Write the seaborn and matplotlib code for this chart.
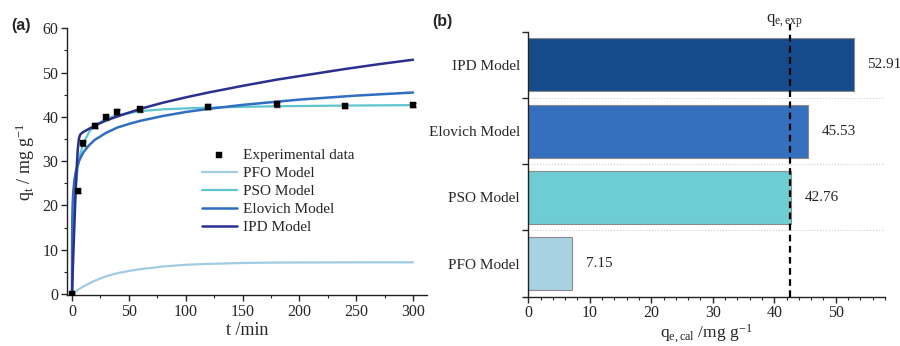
import matplotlib
matplotlib.use('Agg')
import matplotlib.pyplot as plt
import seaborn as sns
import pandas as pd
from matplotlib.ticker import MultipleLocator, FixedLocator, NullFormatter

# ---------------- data ----------------
t_exp = [0, 5, 10, 20, 30, 40, 60, 120, 180, 240, 300]
q_exp = [0, 23.2, 34.0, 38.0, 39.9, 41.1, 41.7, 42.3, 42.8, 42.5, 42.7]
err_exp = [0.3, 0.5, 0.6, 0.6, 0.5, 0.6, 0.5, 0.5, 0.6, 0.5, 0.5]

t_pfo = [0, 5, 10, 20, 30, 40, 50, 60, 80, 100, 120, 150, 180, 240, 300]
q_pfo = [0, 0.9, 1.7, 3.0, 4.0, 4.7, 5.2, 5.6, 6.2, 6.6, 6.8, 7.0, 7.1, 7.14, 7.15]

t_pso = [0, 1, 2, 3, 5, 7, 10, 15, 20, 30, 40, 60, 80, 120, 180, 240, 300]
q_pso = [0, 12.2, 19.0, 23.3, 28.5, 31.5, 34.0, 36.6, 38.0, 39.6, 40.4, 41.3, 41.7,
         42.1, 42.4, 42.55, 42.65]

t_elo = [0, 0.05, 0.2, 0.5, 1, 2, 3, 5, 7, 10, 15, 20, 30, 40, 50, 60, 80, 100, 120,
         150, 200, 250, 300]
q_elo = [0, 11.1, 16.4, 20.0, 22.8, 25.6, 27.2, 29.2, 30.5, 32.0, 33.6, 34.8, 36.4, 37.6,
         38.4, 39.1, 40.2, 41.1, 41.8, 42.7, 43.9, 44.8, 45.5]

t_ipd = [0, 1, 2, 3, 4, 5, 6, 7, 8, 10, 15, 20, 30, 40, 60, 80, 100, 120, 150, 180,
         210, 240, 270, 300]
q_ipd = [0, 8.0, 15.0, 22.0, 28.0, 32.5, 35.0, 35.9, 36.2, 36.6, 37.3, 38.0, 39.2, 40.1,
         41.8, 43.2, 44.4, 45.5, 47.0, 48.4, 49.6, 50.8, 51.9, 52.9]

models = ['IPD Model', 'Elovich Model', 'PSO Model', 'PFO Model']
qe_cal = [52.91, 45.53, 42.76, 7.15]
qe_exp = 42.6
bar_colors = ['#164b8b', '#3570be', '#6ecdd3', '#a8d1e2']

# ---------------- style ----------------
sns.set_style('ticks')
plt.rcParams['font.family'] = ['Liberation Serif', 'DejaVu Serif']
plt.rcParams['mathtext.fontset'] = 'custom'
plt.rcParams['mathtext.rm'] = 'Liberation Serif'
plt.rcParams['mathtext.it'] = 'Liberation Serif:italic'
plt.rcParams['axes.linewidth'] = 1.0
plt.rcParams['axes.edgecolor'] = '#222222'

fig = plt.figure(figsize=(9, 3.46), dpi=100)
ax1 = fig.add_axes([0.0741, 0.1465, 0.4007, 0.7717])
ax2 = fig.add_axes([0.587, 0.1425, 0.3963, 0.766])

# ---------------- panel (a) ----------------
line_specs = [
    (t_pfo, q_pfo, '#9fcbe3', 'PFO Model', 1.6),
    (t_pso, q_pso, '#5fc6cf', 'PSO Model', 1.6),
    (t_elo, q_elo, '#2f6ec0', 'Elovich Model', 1.8),
    (t_ipd, q_ipd, '#2b2f8f', 'IPD Model', 1.8),
]
for tt, qq, c, lab, lw in line_specs:
    sns.lineplot(x=tt, y=qq, ax=ax1, color=c, lw=lw, label=lab, zorder=2)

ax1.errorbar(t_exp, q_exp, yerr=err_exp, fmt='none', ecolor='#333333', elinewidth=0.8,
             capsize=2, zorder=3)
sns.scatterplot(x=t_exp, y=q_exp, ax=ax1, marker='s', color='black', s=22,
                edgecolor='black', linewidth=0.3, label='Experimental data', zorder=4)

ax1.set_xlim(-4.7, 312.6)
ax1.set_ylim(-0.3, 60)
ax1.xaxis.set_major_locator(MultipleLocator(50))
ax1.xaxis.set_minor_locator(MultipleLocator(25))
ax1.yaxis.set_major_locator(MultipleLocator(10))
ax1.yaxis.set_minor_locator(MultipleLocator(5))
ax1.tick_params(which='major', direction='out', length=4, width=1, labelsize=11.5, pad=2)
ax1.tick_params(which='minor', direction='out', length=2.5, width=0.8)
sns.despine(ax=ax1)
ax1.set_xlabel('t /min', fontsize=13, labelpad=2)
ax1.set_ylabel(r'$\mathregular{q_t}$ / mg g$^{\mathregular{-1}}$', fontsize=13, labelpad=4)

handles, labels = ax1.get_legend_handles_labels()
order = ['Experimental data', 'PFO Model', 'PSO Model', 'Elovich Model', 'IPD Model']
hmap = dict(zip(labels, handles))
ax1.legend([hmap[k] for k in order], order, loc='upper left', bbox_to_anchor=(0.375, 0.55),
           frameon=False, fontsize=11, handlelength=2.3, handletextpad=0.4,
           labelspacing=0.28, borderpad=0, borderaxespad=0)

# ---------------- panel (b) ----------------
df = pd.DataFrame({'model': models, 'qe': qe_cal})
sns.barplot(data=df, x='qe', y='model', hue='model', order=models, hue_order=models,
            palette=bar_colors, saturation=1, width=0.8, edgecolor='#8a8a8a',
            linewidth=0.8, legend=False, ax=ax2, zorder=2)
for cont in ax2.containers:
    ax2.bar_label(cont, fmt='%.2f', padding=10, fontsize=11)

ax2.set_xlim(0, 58)
ax2.set_ylim(3.5, -0.5)
ax2.xaxis.set_major_locator(MultipleLocator(10))
ax2.xaxis.set_minor_locator(MultipleLocator(2))
ax2.yaxis.set_minor_locator(FixedLocator([-0.5, 0.5, 1.5, 2.5, 3.5]))
ax2.yaxis.set_minor_formatter(NullFormatter())
ax2.tick_params(axis='y', which='major', length=0, labelsize=11, pad=6)
ax2.tick_params(axis='y', which='minor', direction='out', length=4, width=1)
ax2.tick_params(axis='x', which='major', direction='out', length=4, width=1, labelsize=11.5, pad=2)
ax2.tick_params(axis='x', which='minor', direction='out', length=2.5, width=0.8)
for yb in [0.5, 1.5, 2.5]:
    ax2.axhline(yb, color='#cccccc', lw=0.8, ls=':', zorder=1)
sns.despine(ax=ax2)
ax2.set_ylabel('')
ax2.set_xlabel(r'$\mathregular{q_{e,cal}}$ /mg g$^{\mathregular{-1}}$', fontsize=12.5, labelpad=1)

ax2.axvline(qe_exp, ymin=0, ymax=1.03, color='black', ls=(0, (3, 2)), lw=1.6,
            clip_on=False, zorder=5)
ax2.text(qe_exp - 1.0, 1.04, r'$\mathregular{q_{e,exp}}$', transform=ax2.get_xaxis_transform(),
         ha='center', va='center', fontsize=12)

# panel labels
fig.text(0.013, 0.927, '(a)', fontsize=11.5, fontweight='bold', family='Liberation Sans',
         va='center')
fig.text(0.48, 0.937, '(b)', fontsize=11.5, fontweight='bold', family='Liberation Sans',
         va='center')

fig.savefig('out.png', dpi=100, facecolor='white')
